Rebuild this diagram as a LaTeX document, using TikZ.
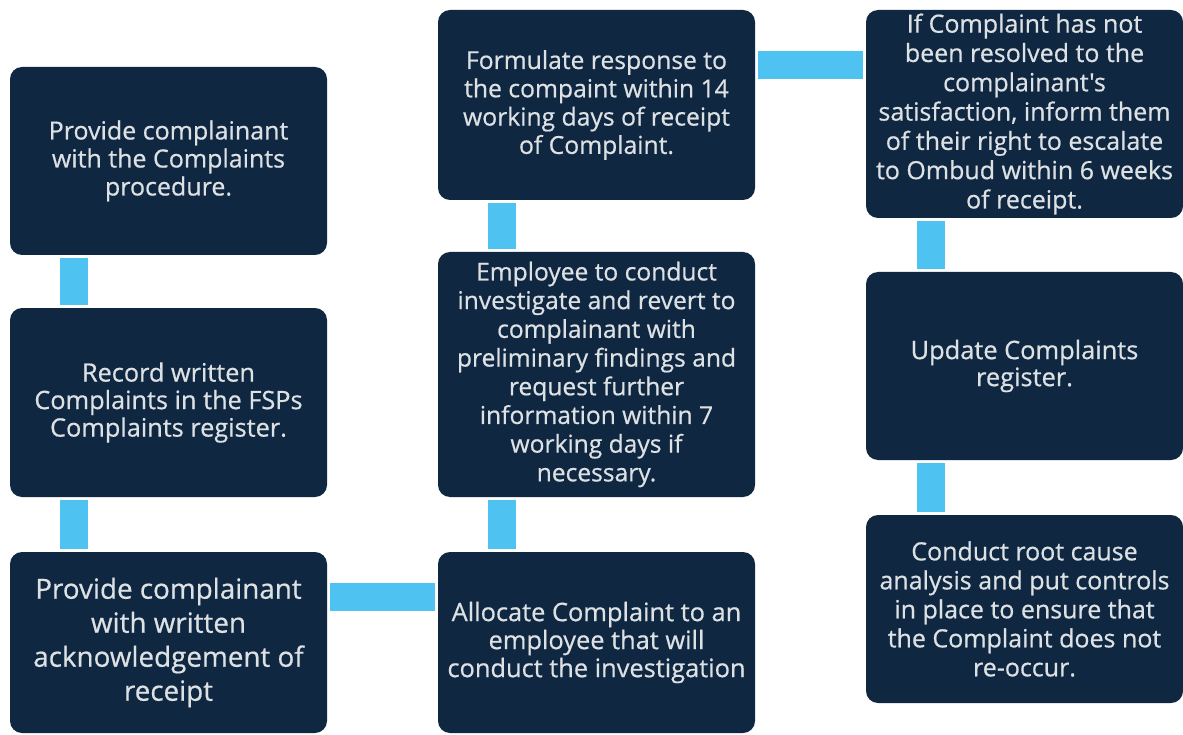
\documentclass[tikz,border=0pt]{standalone}
\usepackage{fontspec}
\setmainfont{Open Sans}
\newfontfamily\stepfont{Open Sans}[FakeBold=0.6]
\definecolor{navy}{HTML}{0F2741}
\definecolor{skyline}{HTML}{4EC2F0}

\begin{document}
\begin{tikzpicture}[x=1pt, y=-1pt,
  stepbox/.style={fill=navy, rounded corners=12pt, text=white!86!navy, align=center,
    minimum width=317pt, inner sep=0pt, font=\stepfont\fontsize{25}{28}\selectfont},
  link/.style={skyline, line width=28pt, shorten <=3pt, shorten >=3pt}]
  \useasboundingbox[fill=white] (0,0) rectangle (1183,735);
  % left column
  \node[stepbox, minimum height=188pt] (proc) at (168.5,161) {Provide complainant\\with the Complaints\\procedure.};
  \node[stepbox, minimum height=189pt, font=\stepfont\fontsize{25.3}{27.5}\selectfont] (record) at (168.5,402.5) {Record written\\Complaints in the FSPs\\Complaints register.};
  \node[stepbox, minimum height=181pt, font=\stepfont\fontsize{27.8}{34}\selectfont] (ack) at (168.5,642.5) {Provide complainant\\with written\\acknowledgement of\\receipt};
  % middle column
  \node[stepbox, minimum height=190pt, font=\stepfont\fontsize{24.7}{28.3}\selectfont] (respond) at (596.5,105) {Formulate response to\\the compaint within 14\\working days of receipt\\of Complaint.};
  \node[stepbox, minimum height=245pt, font=\stepfont\fontsize{24.6}{28.7}\selectfont] (investigate) at (596.5,374.5) {Employee to conduct\\investigate and revert to\\complainant with\\preliminary findings and\\request further\\information within 7\\working days if\\necessary.};
  \node[stepbox, minimum height=181pt, font=\stepfont\fontsize{25.4}{28}\selectfont] (allocate) at (596.5,642.5) {Allocate Complaint to an\\employee that will\\conduct the investigation};
  % right column
  \node[stepbox, minimum height=208pt, font=\stepfont\fontsize{25}{29.3}\selectfont] (escalate) at (1024.5,114) {If Complaint has not\\been resolved to the\\complainant's\\satisfaction, inform them\\of their right to escalate\\to Ombud within 6 weeks\\of receipt.};
  \node[stepbox, minimum height=188pt, font=\stepfont\fontsize{25.4}{27}\selectfont] (update) at (1024.5,366) {Update Complaints\\register.};
  \node[stepbox, minimum height=188pt, font=\stepfont\fontsize{25}{29}\selectfont] (rootcause) at (1024.5,609) {Conduct root cause\\analysis and put controls\\in place to ensure that\\the Complaint does not\\re-occur.};
  % connectors
  \draw[link] ([xshift=64pt]proc.south west) -- ([xshift=64pt]record.north west);
  \draw[link] ([xshift=64pt]record.south west) -- ([xshift=64pt]ack.north west);
  \draw[link] ([yshift=-45pt]ack.north east) -- ([yshift=-45pt]allocate.north west);
  \draw[link] ([xshift=64pt]allocate.north west) -- ([xshift=64pt]investigate.south west);
  \draw[link] ([xshift=64pt]investigate.north west) -- ([xshift=64pt]respond.south west);
  \draw[link] ([yshift=-55pt]respond.north east) -- ([yshift=-55pt]escalate.north west);
  \draw[link] ([xshift=65pt]escalate.south west) -- ([xshift=65pt]update.north west);
  \draw[link] ([xshift=65pt]update.south west) -- ([xshift=65pt]rootcause.north west);
\end{tikzpicture}
\end{document}
